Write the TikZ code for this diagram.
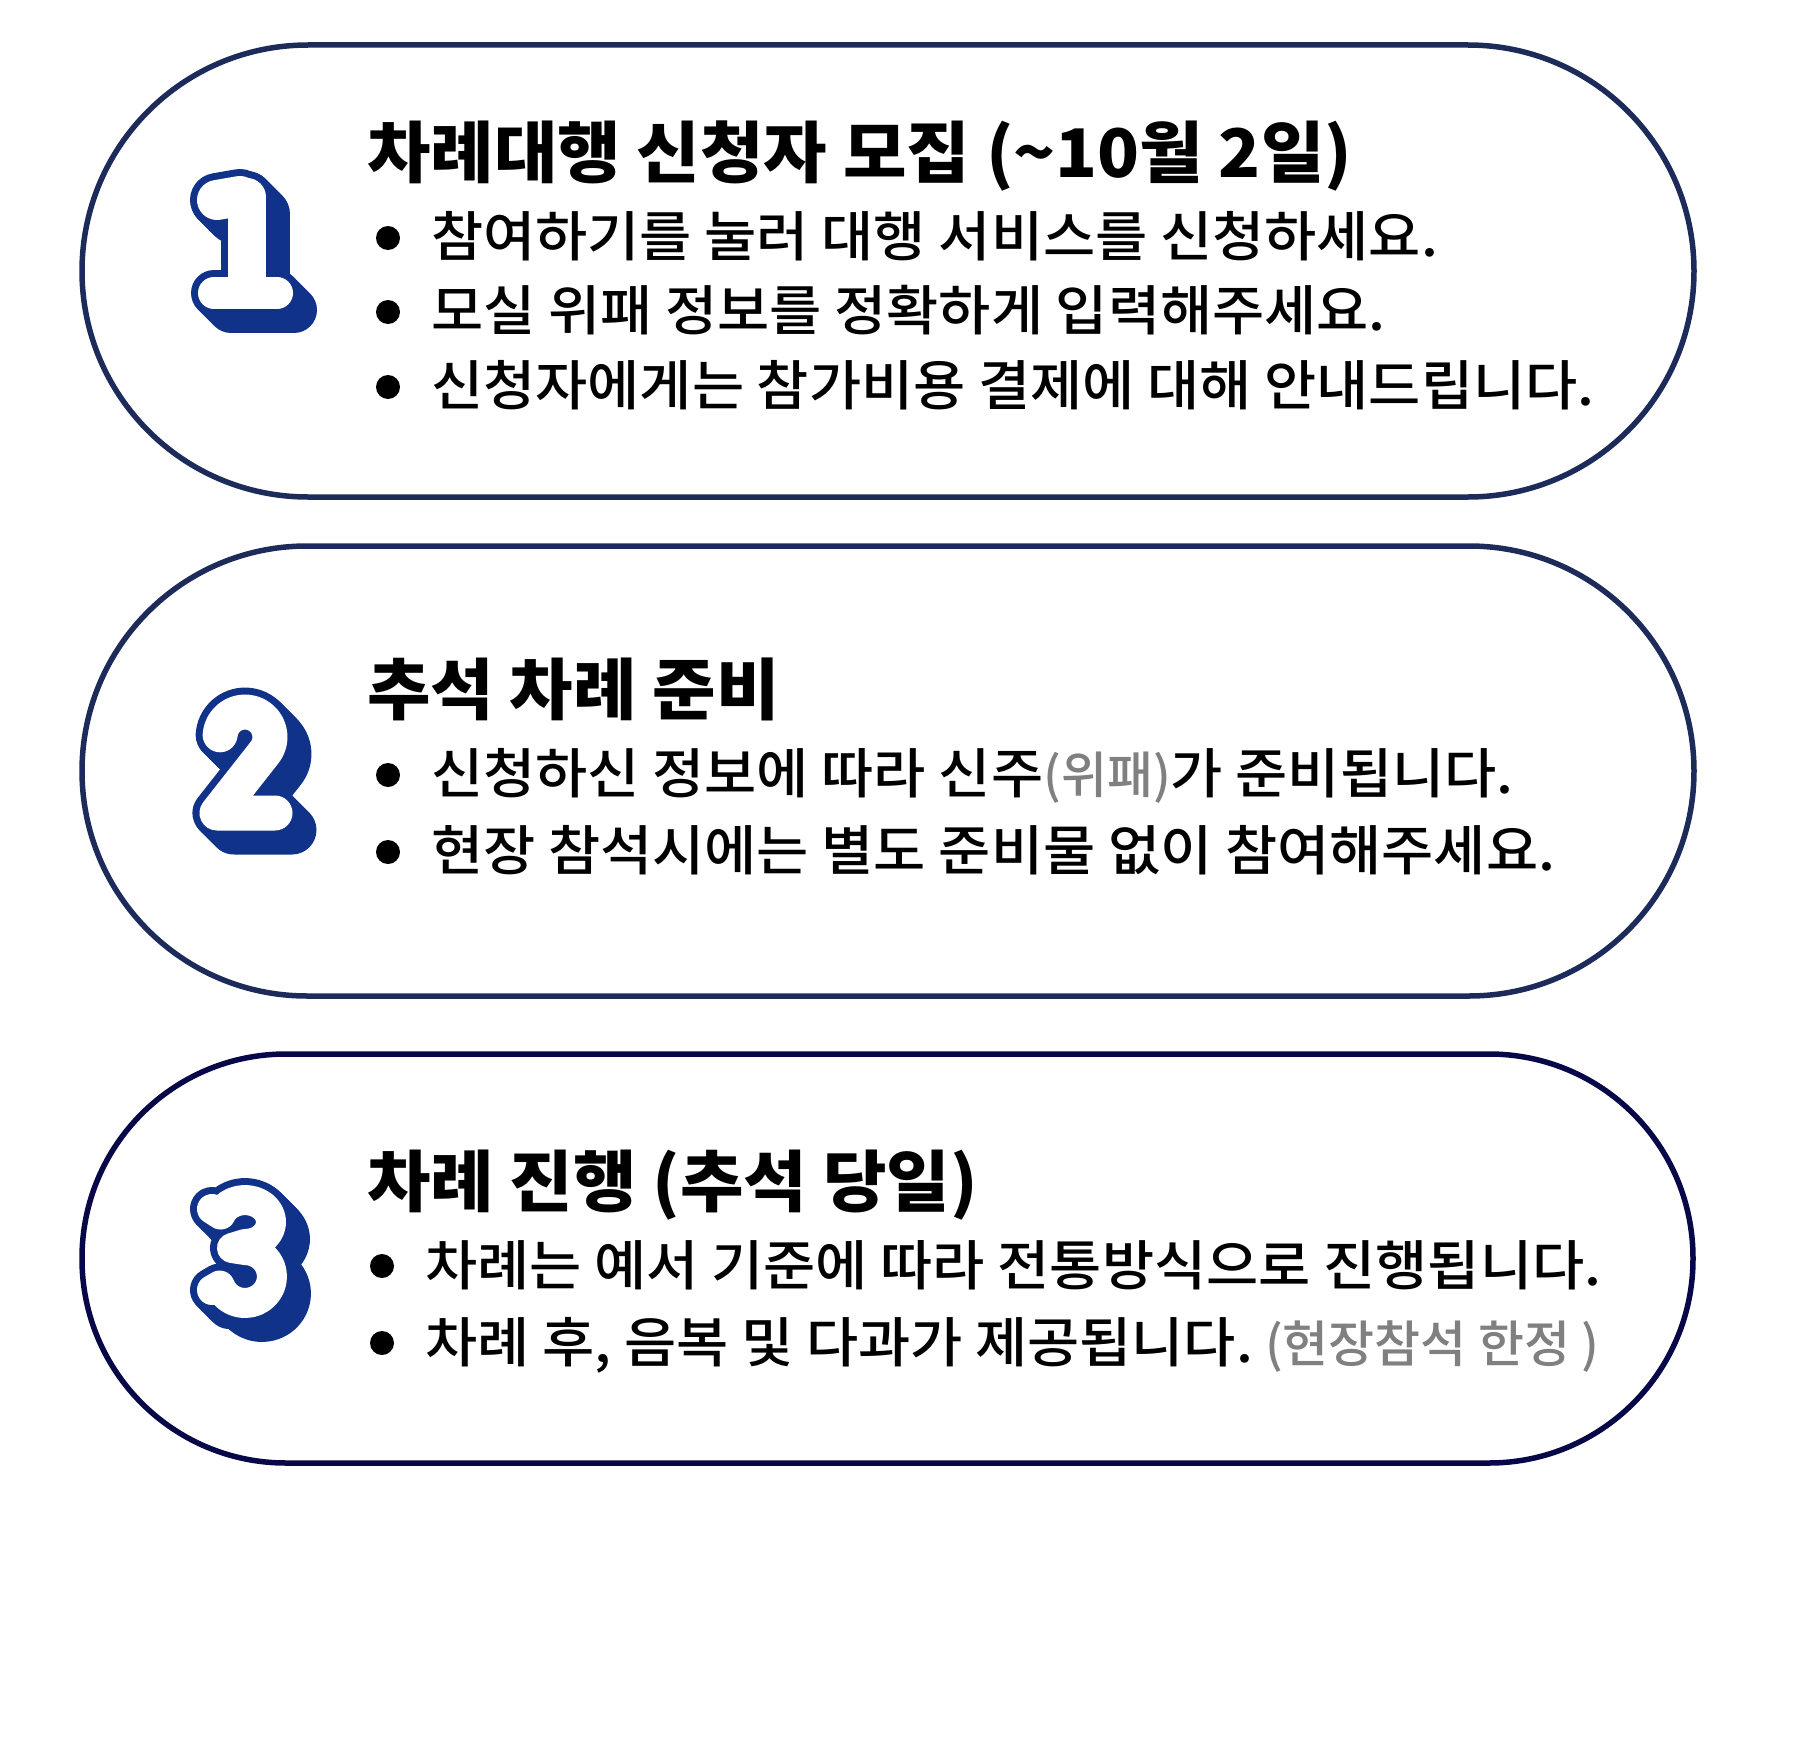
\documentclass[tikz,border=0pt]{standalone}
\usepackage{fontspec}
\newfontfamily\krtitle{Noto Sans CJK KR Black}[FakeStretch=1.03]
\newfontfamily\krbody{Noto Sans CJK KR Medium}[FakeStretch=1.05]
\newfontfamily\krnote{Noto Sans CJK KR Medium}[FakeStretch=1.0]
\definecolor{digitblue}{RGB}{16,50,137}
\definecolor{pillA}{RGB}{28,43,90}
\definecolor{pillB}{RGB}{8,8,72}
\definecolor{note}{RGB}{128,128,128}
\newcommand\notetxt[1]{{\krnote\fontsize{50}{60}\selectfont\textcolor{note}{#1}}}
\newcommand\myDigitOne[2]{%
  \draw[#2,line width={38pt+#1pt}] (247,197) -- (247,285);
  \draw[#2,line width={40pt+#1pt}] (217,200) -- (240,196);
  \draw[#2,line width={32pt+#1pt}] (214,293) -- (277,293);}
\newcommand\myDigitTwo[2]{%
  \draw[#2,line width={35pt+#1pt}] (220.1,734.8) arc[start angle=185,end angle=400,radius=25] -- (217,813) -- (275,813);}
\newcommand\myDigitThree[2]{%
  \draw[#2,line width={30pt+#1pt}] (212,1209) -- (220.6,1214.5) arc[start angle=200,end angle=450,x radius=26,y radius=22] -- (232,1248) -- (245,1250) arc[start angle=270,end angle=520,x radius=27,y radius=26.5] -- (212,1290);}
\tikzset{
  pill/.style={line width=5.5pt,rounded corners=#1},
  ttl/.style={anchor=base west,inner sep=0pt,font=\krtitle\fontsize{67}{72}\selectfont},
  bodytxt/.style={anchor=base west,inner sep=0pt,font=\krbody\fontsize{54}{60}\selectfont},
  dig/.style={line cap=round,line join=round},
}
\begin{document}
\begin{tikzpicture}[x=1pt,y=-1pt]
\useasboundingbox (0,0) rectangle (1800,1737);
\fill[white] (0,0) rectangle (1800,1737);
% pills
\draw[pill=226pt,draw=pillA] (82,45) rectangle (1694,497);
\draw[pill=225pt,draw=pillA] (82,546) rectangle (1694,996);
\draw[pill=204pt,draw=pillB] (82,1054) rectangle (1693,1463);
% digits
\begin{scope}[dig]
\foreach \k in {1,3,...,17}{\begin{scope}[shift={(\k,\k)}]\myDigitOne{14}{digitblue}\end{scope}}
\myDigitOne{14}{digitblue}
\myDigitOne{0}{white}
\foreach \k in {1,3,...,17}{\begin{scope}[shift={(\k,\k)}]\myDigitTwo{14}{digitblue}\end{scope}}
\myDigitTwo{14}{digitblue}
\myDigitTwo{0}{white}
\foreach \k in {1,3,...,17}{\begin{scope}[shift={(\k,\k)}]\myDigitThree{14}{digitblue}\end{scope}}
\myDigitThree{14}{digitblue}
\myDigitThree{0}{white}
\end{scope}
% step 1
\node[ttl] (t1) at (367,177) {차례대행 신청자 모집 ({\char"007E}10월 2일)};
\fill (388,238) circle (12); \node[bodytxt] (a1) at (431,256) {참여하기를 눌러 대행 서비스를 신청하세요.};
\fill (388,312) circle (12); \node[bodytxt] (a2) at (431,330) {모실 위패 정보를 정확하게 입력해주세요.};
\fill (388,387) circle (12); \node[bodytxt] (a3) at (431,405) {신청자에게는 참가비용 결제에 대해 안내드립니다.};
% step 2
\node[ttl] (t2) at (367,714) {추석 차례 준비};
\fill (388,775) circle (12); \node[bodytxt] (b1) at (431,793) {신청하신 정보에 따라 신주\notetxt{(위패)}가 준비됩니다.};
\fill (388,852) circle (12); \node[bodytxt] (b2) at (431,870) {현장 참석시에는 별도 준비물 없이 참여해주세요.};
% step 3
\node[ttl] (t3) at (367,1206) {차례 진행 (추석 당일)};
\fill (382,1266) circle (12); \node[bodytxt] (c1) at (425,1285) {차례는 예서 기준에 따라 전통방식으로 진행됩니다.};
\fill (382,1343) circle (12); \node[bodytxt] (c2) at (425,1362) {차례 후, 음복 및 다과가 제공됩니다.\hspace{12pt}\notetxt{(현장참석 한정 )}};
\end{tikzpicture}
\end{document}
